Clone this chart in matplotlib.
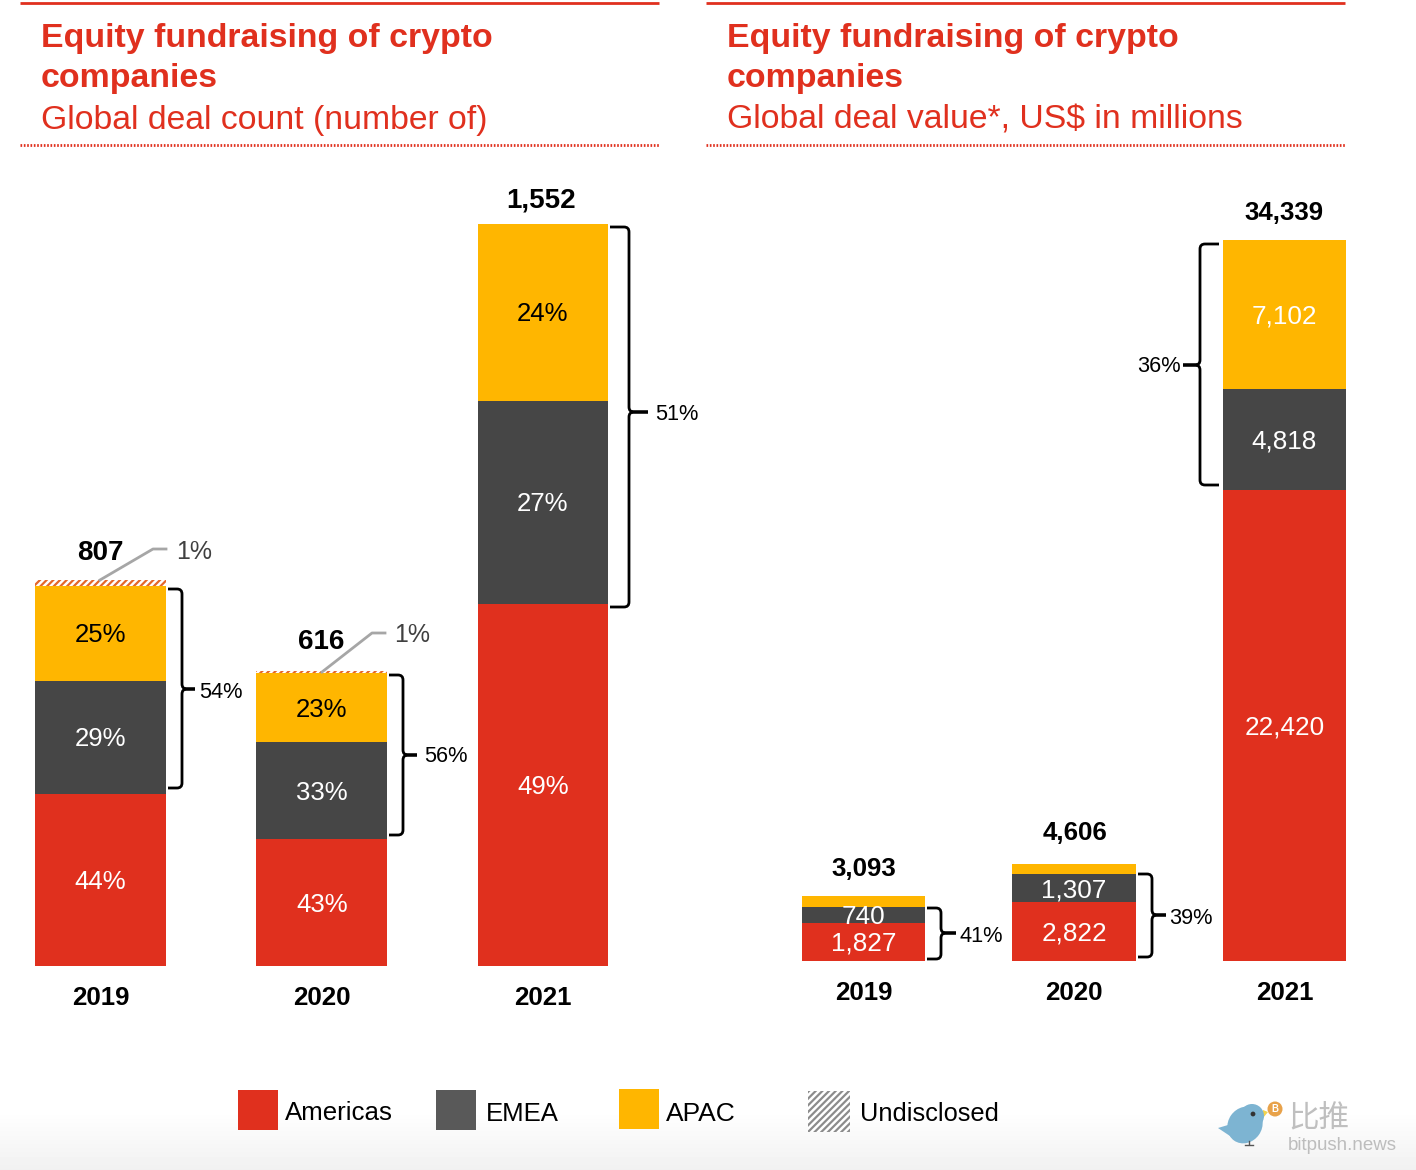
import matplotlib
matplotlib.use('Agg')
import matplotlib.pyplot as plt
import numpy as np
from matplotlib.patches import Circle, Ellipse, PathPatch, Polygon, Rectangle
from matplotlib.path import Path

plt.rcParams['font.family'] = ['Liberation Sans', 'Noto Sans CJK SC', 'DejaVu Sans']
plt.rcParams['hatch.linewidth'] = 1.6

W, H = 1416, 1170

RED = '#E0301E'
DARK = '#464646'
YELLOW = '#FFB600'
HATCH = '#E4672A'

years = ['2019', '2020', '2021']

# deal count
count_americas = [360, 265, 757]
count_emea = [236, 203, 425]
count_apac = [199, 144, 370]
count_undisclosed = [12, 4, 0]
count_totals = ['807', '616', '1,552']
count_pct_americas = ['44%', '43%', '49%']
count_pct_emea = ['29%', '33%', '27%']
count_pct_apac = ['25%', '23%', '24%']

# deal value
value_americas = [1827, 2822, 22420]
value_emea = [740, 1307, 4818]
value_apac = [526, 477, 7102]
value_totals = ['3,093', '4,606', '34,339']


def pixel_axes(left, right, top, bottom):
    return fig.add_axes([left / W, 1 - bottom / H, (right - left) / W, (bottom - top) / H])


def setup_bars(ax, left, right, top, base, first, step, top_px, top_val):
    ax.set_xlim((left - first) / step, (right - first) / step)
    ax.set_ylim(0, (base - top) / (base - top_px) * top_val)
    ax.patch.set_alpha(0)
    for s in ax.spines.values():
        s.set_visible(False)
    ax.set_yticks([])
    ax.set_xticks(range(3))
    ax.set_xticklabels(years, fontsize=18.6, fontweight='bold')
    ax.tick_params(axis='x', length=0, pad=14.5)


def stack(ax, series, colors, width, labels, label_colors, fontsize, shift):
    bottom = np.zeros(3)
    x = np.arange(3)
    for vals, col, labs, lc in zip(series, colors, labels, label_colors):
        ax.bar(x, vals, width, bottom=bottom, color=col, linewidth=0)
        for i in x:
            if labs is not None:
                ax.annotate(labs[i], (i, bottom[i] + vals[i] / 2), xytext=(0, shift), textcoords='offset pixels',
                            color=lc, ha='center', va='center', fontsize=fontsize)
        bottom = bottom + np.array(vals)
    return bottom


def bracket(x0, x1, y0, y1, tip, ymid):
    # curly bracket, x0 open side, x1 spine
    d = 5 if x1 > x0 else -5
    verts = [(x0, y0), (x1 - d, y0), (x1, y0), (x1, y0 + 5),
             (x1, ymid - 5), (x1, ymid), (x1 + d, ymid), (tip, ymid), (x1 + d, ymid), (x1, ymid), (x1, ymid + 5),
             (x1, y1 - 5), (x1, y1), (x1 - d, y1), (x0, y1)]
    codes = [Path.MOVETO, Path.LINETO, Path.CURVE3, Path.CURVE3,
             Path.LINETO, Path.CURVE3, Path.CURVE3, Path.LINETO, Path.LINETO, Path.CURVE3, Path.CURVE3,
             Path.LINETO, Path.CURVE3, Path.CURVE3, Path.LINETO]
    over.add_patch(PathPatch(Path(verts, codes), fill=False, ec='black', lw=2))


fig = plt.figure(figsize=(W / 100, H / 100), dpi=100)

# overlay in picture pixels, for rules, brackets, legend and notes
over = fig.add_axes([0, 0, 1, 1], zorder=3)
over.set_xlim(0, W)
over.set_ylim(H, 0)
over.axis('off')

# grey fade along the bottom
bg = fig.add_axes([0, 0, 1, 1], zorder=0)
bg.imshow(np.concatenate([np.ones(1110), np.linspace(1, 0.945, 60)]).reshape(-1, 1), cmap='gray', vmin=0, vmax=1,
          aspect='auto', extent=(0, W, H, 0))
bg.axis('off')

# left panel
ax1 = pixel_axes(0, 700, 160, 966)
ax1.set_zorder(2)
setup_bars(ax1, 0, 700, 160, 966, 100.5, 221.2, 224, 1552)
b = stack(ax1, [count_americas, count_emea, count_apac], [RED, DARK, YELLOW], 0.59,
          [count_pct_americas, count_pct_emea, count_pct_apac], ['white', 'white', 'black'], 18.5, -2)
ax1.bar(range(3), count_undisclosed, 0.59, bottom=b, color='white', edgecolor=HATCH, hatch='/////', linewidth=0)

# right panel
ax2 = pixel_axes(760, 1416, 160, 961)
ax2.set_zorder(2)
setup_bars(ax2, 760, 1416, 160, 961, 863.5, 210.5, 240, 34339)
stack(ax2, [value_americas, value_emea, value_apac], [RED, DARK, YELLOW], 0.589,
      [[f'{v:,}' for v in value_americas], [f'{v:,}' for v in value_emea], [None, None, f'{value_apac[2]:,}']],
      ['white', 'white', 'white'], 18.8, -2)

# headers
for x0, x1, tx, sub in [(20, 659, 41, 'Global deal count (number of)'),
                        (706, 1345, 727, 'Global deal value*, US$ in millions')]:
    over.plot([x0, x1], [3, 3], color=RED, lw=2, solid_capstyle='butt')
    over.plot([x0, x1], [145, 145], color=RED, lw=2, linestyle=(0, (0.6, 0.6)))
    over.text(tx, 38, 'Equity fundraising of crypto', color=RED, fontsize=24.4, fontweight='bold', va='center')
    over.text(tx, 78, 'companies', color=RED, fontsize=24.4, fontweight='bold', va='center')
    over.text(tx, 120, sub, color=RED, fontsize=24.3, va='center')

# totals
for x, y, s, fs in zip([100, 321, 541], [553, 642, 201], count_totals, [20, 20, 20]):
    over.text(x, y, s, fontsize=fs, fontweight='bold', ha='center', va='center')
for x, y, s in zip([864, 1075, 1284], [869, 833, 213], value_totals):
    over.text(x, y, s, fontsize=18.6, fontweight='bold', ha='center', va='center')

# 1% notes
over.plot([100, 153, 166], [580, 549, 549], color='#A6A6A6', lw=2)
over.plot([322, 372, 385], [672, 633, 633], color='#A6A6A6', lw=2)
over.text(176, 552, '1%', fontsize=18, color='#404040', va='center')
over.text(394, 635, '1%', fontsize=18, color='#404040', va='center')

# brackets
bracket(168, 182, 589, 788, 195, 689)
bracket(389, 403, 675, 835, 417, 755)
bracket(610, 629, 227, 607, 648, 412)
bracket(1219, 1200, 244, 485, 1183, 365)
bracket(927, 941, 908, 959, 956, 933)
bracket(1138, 1152, 874, 957, 1166, 915)
for x, y, s, ha in [(199, 692, '54%', 'left'), (424, 757, '56%', 'left'), (655, 414, '51%', 'left'),
                    (1181, 367, '36%', 'right'), (959, 936, '41%', 'left'), (1169, 918, '39%', 'left')]:
    over.text(x, y, s, fontsize=15.7, ha=ha, va='center')

# legend
over.add_patch(Rectangle((238, 1090), 40, 40, color=RED, lw=0))
over.add_patch(Rectangle((436, 1090), 40, 40, color='#595959', lw=0))
over.add_patch(Rectangle((619, 1089), 40, 40, color=YELLOW, lw=0))
over.add_patch(Rectangle((808, 1091), 42, 41, facecolor='white', edgecolor='#8C8C8C', hatch='/////', lw=0))
for x, y, s, fs in [(285, 1113, 'Americas', 18.6), (486, 1114, 'EMEA', 18.5), (666, 1114, 'APAC', 19),
                    (860, 1114, 'Undisclosed', 18.3)]:
    over.text(x, y, s, fontsize=fs, va='center')

# watermark
over.add_patch(Polygon([(1263, 1110), (1268, 1112), (1263, 1118)], color='#F2D34E', lw=0))
over.add_patch(Ellipse((1245, 1125), 34, 38, angle=35, color='#7DB4D2', lw=0))
over.add_patch(Circle((1252, 1116), 12, color='#7DB4D2', lw=0))
over.add_patch(Polygon([(1218, 1128), (1228, 1125), (1236, 1140)], color='#7DB4D2', lw=0))
over.add_patch(Circle((1253, 1114), 2.4, color='#333333', lw=0))
over.add_patch(Circle((1275, 1109), 7.5, color='#E8A24A', lw=0))
over.text(1275, 1109, 'B', fontsize=7, color='white', ha='center', va='center', fontweight='bold')
over.plot([1249, 1249], [1141, 1144], color='#555555', lw=1)
over.plot([1245, 1253], [1145, 1145], color='#555555', lw=1)
over.text(1288, 1119, '比推', fontsize=22, color='#BFBFBF', va='center')
over.text(1288, 1145, 'bitpush.news', fontsize=13.5, color='#BDBDBD', va='center')

fig.savefig('out.png', dpi=100)
